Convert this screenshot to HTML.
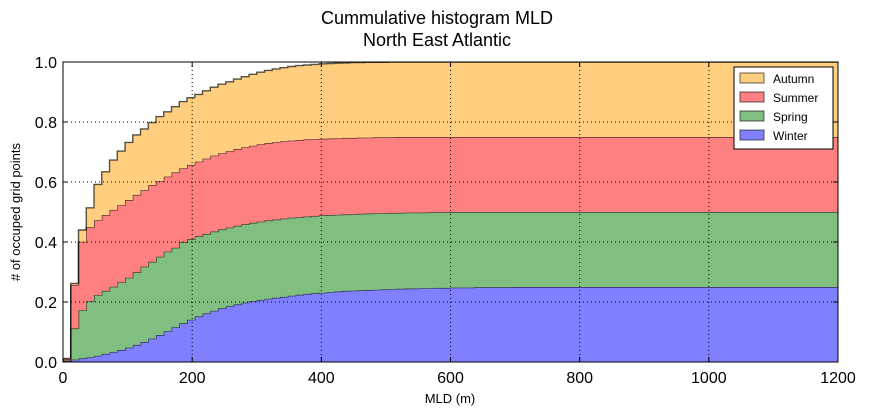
<!DOCTYPE html>
<html><head><meta charset="utf-8"><style>
body{margin:0;background:#fff;}
svg{display:block;font-family:"Liberation Sans",sans-serif;}
</style></head><body>
<svg id="c" width="869" height="416">
<text x="437" y="24" text-anchor="middle" font-size="18">Cummulative histogram MLD</text>
<text x="437" y="46" text-anchor="middle" font-size="18">North East Atlantic</text>
<defs><clipPath id="pc"><rect x="63" y="62" width="775" height="300"/></clipPath></defs>
<g id="layers" clip-path="url(#pc)"></g>
<g id="grid"></g>
<rect x="63" y="62" width="775" height="300" fill="none" stroke="#000" stroke-width="1"/>
<g id="ticks"></g>
<text x="450" y="403" text-anchor="middle" font-size="13">MLD (m)</text>
<text transform="translate(20,212) rotate(-90)" text-anchor="middle" font-size="13"># of occuped grid points</text>
<g id="legend">
<rect x="734" y="67" width="99" height="82" fill="#fff" stroke="#000"/>
</g>
</svg>
<script>
const binWidth = 12;
const xTicks = [0,200,400,600,800,1000,1200];
const yTicks = [0.0,0.2,0.4,0.6,0.8,1.0];
const seasons = ["Winter","Spring","Summer","Autumn"];
const winterTop = [0.003,0.008,0.012,0.016,0.021,0.027,0.033,0.04,0.048,0.057,0.067,0.078,0.09,0.103,0.116,0.129,0.141,0.152,0.162,0.171,0.179,0.186,0.192,0.198,0.203,0.207,0.211,0.214,
0.217,0.221,0.224,0.227,0.229,0.231,0.233,0.235,0.237,0.238,0.239,0.24,0.241,0.242,0.243,0.244,0.245,0.245,0.246,0.246,0.247,0.247,0.248,0.248,0.248,0.249,0.249,0.249,0.249,0.249,
0.25,0.25,0.25,0.25,0.25,0.25,0.25,0.25,0.25,0.25,0.25,0.25,0.25,0.25,0.25,0.25,0.25,0.25,0.25,0.25,0.25,0.25,0.25,0.25,0.25,0.25,0.25,0.25,0.25,0.25,0.25,0.25,0.25,0.25,0.25,0.25,0.25,0.25,0.25,0.25,0.25,0.25];
const springTop = [0.005,0.112,0.173,0.203,0.223,0.237,0.251,0.266,0.281,0.299,0.318,0.334,0.351,0.368,0.381,
0.40,0.41,0.419,0.427,0.435,0.442,0.448,0.454,0.459,0.464,0.468,0.472,0.475,0.478,0.481,0.483,0.485,0.487,0.489,0.49,0.491,0.492,0.493,0.494,0.495,0.496,0.496,0.497,0.497,0.498,0.498,0.498,0.499,0.499,0.499,
0.5,0.5,0.5,0.5,0.5,0.5,0.5,0.5,0.5,0.5,0.5,0.5,0.5,0.5,0.5,0.5,0.5,0.5,0.5,0.5,0.5,0.5,0.5,0.5,0.5,0.5,0.5,0.5,0.5,0.5,0.5,0.5,0.5,0.5,0.5,0.5,0.5,0.5,0.5,0.5,0.5,0.5,0.5,0.5,0.5,0.5,0.5,0.5,0.5,0.5];
const summerTop = [0.01,0.257,0.401,0.449,0.473,0.49,0.507,0.523,0.54,0.557,0.573,0.59,0.603,0.618,0.632,0.646,0.657,0.668,
0.678,0.688,0.696,0.703,0.71,0.716,0.721,0.726,0.73,0.733,0.736,0.738,0.74,0.742,0.743,0.744,0.745,0.746,0.747,0.747,0.748,0.748,0.749,0.749,0.749,
0.75,0.75,0.75,0.75,0.75,0.75,0.75,0.75,0.75,0.75,0.75,0.75,0.75,0.75,0.75,0.75,0.75,0.75,0.75,0.75,0.75,0.75,0.75,0.75,0.75,0.75,0.75,0.75,0.75,0.75,0.75,0.75,0.75,0.75,0.75,0.75,0.75,0.75,0.75,0.75,0.75,0.75,0.75,0.75,0.75,0.75,0.75,0.75,0.75,0.75,0.75,0.75,0.75,0.75,0.75,0.75,0.75];
const autumnTop = [0.012,0.262,0.44,0.514,0.592,0.634,0.673,0.703,0.732,0.757,0.777,0.798,0.818,0.834,0.851,0.868,0.881,0.892,0.904,0.916,0.926,0.934,0.943,0.951,0.959,0.966,
0.972,0.977,0.981,0.985,0.988,0.99,0.992,0.994,0.995,0.996,0.997,0.998,0.998,0.999,0.999,0.999,
1,1,1,1,1,1,1,1,1,1,1,1,1,1,1,1,1,1,1,1,1,1,1,1,1,1,1,1,1,1,1,1,1,1,1,1,1,1,1,1,1,1,1,1,1,1,1,1,1,1,1,1,1,1,1,1,1,1];
const fills = ["#8080ff","#80bf80","#ff8080","#ffcf7f"];
const NS="http://www.w3.org/2000/svg";
const X0=63,X1=838,Y0=362,Y1=62,XMAX=1200;
function sx(v){return X0+(v/XMAX)*(X1-X0);}
function sy(v){return Y0-(v/1)*(Y0-Y1);}
function mk(t,a,p){const e=document.createElementNS(NS,t);for(const k in a)e.setAttribute(k,a[k]);p.appendChild(e);return e;}
const tops=[winterTop,springTop,summerTop,autumnTop];
const L=document.getElementById('layers');
function stepPts(arr){
  const n=Math.min(arr.length,Math.ceil(XMAX/binWidth));
  let pts=[];
  for(let i=0;i<n;i++){pts.push([sx(i*binWidth),sy(arr[i])]);pts.push([sx(Math.min((i+1)*binWidth,XMAX)),sy(arr[i])]);}
  if(n*binWidth<XMAX){pts.push([sx(XMAX),sy(arr[n-1])]);}
  return pts;
}
for(let s=0;s<4;s++){
  const up=stepPts(tops[s]);
  const lo=s>0?stepPts(tops[s-1]).reverse():[[sx(XMAX),sy(0)],[sx(0),sy(0)]];
  const d="M"+up.concat(lo).map(p=>p[0].toFixed(2)+","+p[1].toFixed(2)).join("L")+"Z";
  const p=mk('path',{d:d,fill:fills[s],stroke:'none'},L);
  
  
  const ln=mk('path',{d:"M"+sx(0)+","+sy(0)+"L"+up.map(q=>q[0].toFixed(2)+","+q[1].toFixed(2)).join("L"),fill:'none',stroke:'rgba(0,0,0,0.65)','stroke-width':1.4},L);
  
  
}
const G=document.getElementById('grid'),T=document.getElementById('ticks');
xTicks.forEach(v=>{
  if(v>0&&v<XMAX){const g=mk('line',{x1:sx(v),x2:sx(v),y1:Y1,y2:Y0,stroke:'#000','stroke-dasharray':'1,3','stroke-width':1},G);
  
  }
  mk('line',{x1:sx(v),x2:sx(v),y1:Y0,y2:Y0-5,stroke:'#000'},T);
  mk('line',{x1:sx(v),x2:sx(v),y1:Y1,y2:Y1+5,stroke:'#000'},T);
  const t=mk('text',{x:sx(v),y:Y0+21,'text-anchor':'middle','font-size':16},T);t.textContent=v;
  
  
});
yTicks.forEach(v=>{
  if(v>0&&v<1){const g=mk('line',{x1:X0,x2:X1,y1:sy(v),y2:sy(v),stroke:'#000','stroke-dasharray':'1,3','stroke-width':1},G);
  
  }
  mk('line',{x1:X0,x2:X0+5,y1:sy(v),y2:sy(v),stroke:'#000'},T);
  mk('line',{x1:X1,x2:X1-5,y1:sy(v),y2:sy(v),stroke:'#000'},T);
  const t=mk('text',{x:X0-6,y:sy(v)+6,'text-anchor':'end','font-size':16},T);t.textContent=v.toFixed(1);
  
  
});
const LG=document.getElementById('legend');
[3,2,1,0].forEach((s,i)=>{
  const y=73+i*19;
  const r=mk('rect',{x:740,y:y,width:24,height:10,fill:fills[s],stroke:'rgba(0,0,0,0.6)'},LG);
  
  
  const t=mk('text',{x:773,y:y+10,'font-size':12},LG);t.textContent=seasons[s];
  
  
});
</script>
</body></html>
